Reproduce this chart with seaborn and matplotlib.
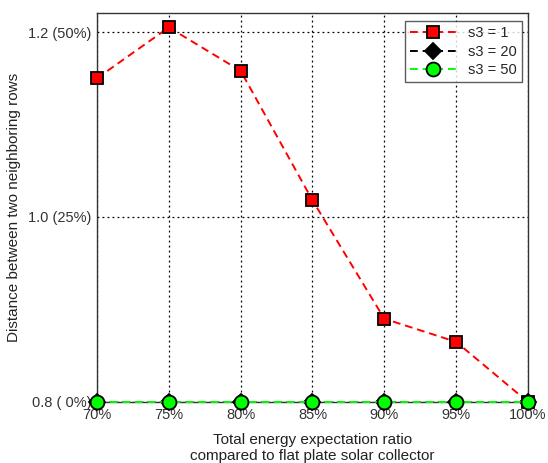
import matplotlib
matplotlib.use("Agg")
import matplotlib.pyplot as plt
import seaborn as sns
import pandas as pd

ratio = [70, 75, 80, 85, 90, 95, 100]
s3_1 = [1.150, 1.205, 1.158, 1.018, 0.890, 0.865, 0.800]
s3_20 = [0.8, 0.8, 0.8, 0.8, 0.8, 0.8, 0.8]
s3_50 = [0.8, 0.8, 0.8, 0.8, 0.8, 0.8, 0.8]
series_names = ["s3 = 1", "s3 = 20", "s3 = 50"]
x_ticklabels = ["70%", "75%", "80%", "85%", "90%", "95%", "100%"]
y_ticks = [0.8, 1.0, 1.2]
y_ticklabels = ["0.8 ( 0%)", "1.0 (25%)", "1.2 (50%)"]

sns.set_style("white")
plt.rcParams["font.family"] = ["Liberation Sans", "DejaVu Sans"]

df = pd.DataFrame({
    "ratio": ratio * 3,
    "dist": s3_1 + s3_20 + s3_50,
    "series": sum([[n] * len(ratio) for n in series_names], []),
})

fig = plt.figure(figsize=(5.48, 4.63), dpi=100)
ax = fig.add_axes([0.177, 0.1318, 0.7865, 0.840])

styles = {
    "s3 = 1": dict(color="red", marker="s", ms=9),
    "s3 = 20": dict(color="black", marker="D", ms=8),
    "s3 = 50": dict(color="#00ff00", marker="o", ms=10),
}
for name in series_names:
    st = styles[name]
    sub = df[df["series"] == name]
    sns.lineplot(data=sub, x="ratio", y="dist", ax=ax, color=st["color"],
                 linestyle=(0, (4, 2.5)), linewidth=1.4, marker=st["marker"],
                 markersize=st["ms"], markerfacecolor=st["color"],
                 markeredgecolor="black", markeredgewidth=1.3,
                 label=name, clip_on=False, zorder=3)

ax.set_xlim(70, 100)
ax.set_ylim(0.8, 1.2205)
ax.set_xticks(ratio)
ax.set_xticklabels(x_ticklabels)
ax.set_yticks(y_ticks)
ax.set_yticklabels(y_ticklabels)
ax.tick_params(axis="both", labelsize=10.5, colors="#333333", length=0)
ax.tick_params(axis="x", pad=4)
ax.tick_params(axis="y", pad=4)
ax.grid(True, color="black", linestyle=(0, (1.5, 2.5)), linewidth=0.9)
for sp in ax.spines.values():
    sp.set_color("#333333")
    sp.set_linewidth(1.0)

ax.set_xlabel("Total energy expectation ratio\ncompared to flat plate solar collector",
              fontsize=11, color="#222222", labelpad=8)
ax.set_ylabel("Distance between two neighboring rows", fontsize=11,
              color="#222222", labelpad=5)

leg = ax.legend(loc="upper right", fontsize=10.5, frameon=True, fancybox=False,
                edgecolor="#333333", handlelength=3.2, borderpad=0.35,
                labelspacing=0.3, borderaxespad=0,
                bbox_to_anchor=(0.986, 0.979))
leg.get_frame().set_linewidth(1.0)

fig.savefig("out.png", dpi=100, facecolor="white")
